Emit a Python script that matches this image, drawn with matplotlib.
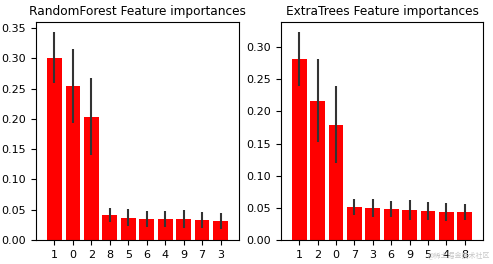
import matplotlib
matplotlib.use("Agg")
import matplotlib.pyplot as plt
import numpy as np

plt.rcParams['font.family'] = ['DejaVu Sans', 'Noto Sans CJK SC']

rf_labels = ["1", "0", "2", "8", "5", "6", "4", "9", "7", "3"]
rf_values = [0.301, 0.255, 0.204, 0.0415, 0.0365, 0.035, 0.035, 0.035, 0.0333, 0.0315]
rf_std = [0.042, 0.061, 0.064, 0.012, 0.014, 0.013, 0.013, 0.015, 0.013, 0.0135]

et_labels = ["1", "2", "0", "7", "3", "6", "9", "5", "4", "8"]
et_values = [0.2808, 0.2168, 0.1794, 0.0515, 0.050, 0.0484, 0.0468, 0.0452, 0.0437, 0.0437]
et_std = [0.042, 0.065, 0.060, 0.013, 0.014, 0.013, 0.015, 0.0135, 0.014, 0.0125]

fig = plt.figure(figsize=(4.93, 2.64), dpi=100)
ax1 = fig.add_axes([36/493, 1-240/264, 203/493, 218/264])
ax2 = fig.add_axes([281/493, 1-240/264, 202/493, 218/264])

for ax, labels, vals, std, title in [
    (ax1, rf_labels, rf_values, rf_std, "RandomForest Feature importances"),
    (ax2, et_labels, et_values, et_std, "ExtraTrees Feature importances"),
]:
    x = np.arange(len(labels))
    ax.bar(x, vals, color="red", yerr=std, align="center",
           error_kw=dict(ecolor="#333333", elinewidth=1.5))
    ax.set_xticks(x)
    ax.set_xticklabels(labels)
    ax.set_xlim(-1, len(labels))
    ax.set_title(title, fontsize=8.7, pad=5)
    ax.tick_params(labelsize=8)

ax1.set_yticks(np.arange(0, 0.351, 0.05))
ax2.set_yticks(np.arange(0, 0.301, 0.05))

fig.text(459/493, 1-256/264, "@稀土掘金技术社区", ha="center", va="center",
         fontsize=5.0, color="#c8c8c8", family=['Noto Sans CJK SC', 'DejaVu Sans'])

fig.savefig("out.png", dpi=100)
